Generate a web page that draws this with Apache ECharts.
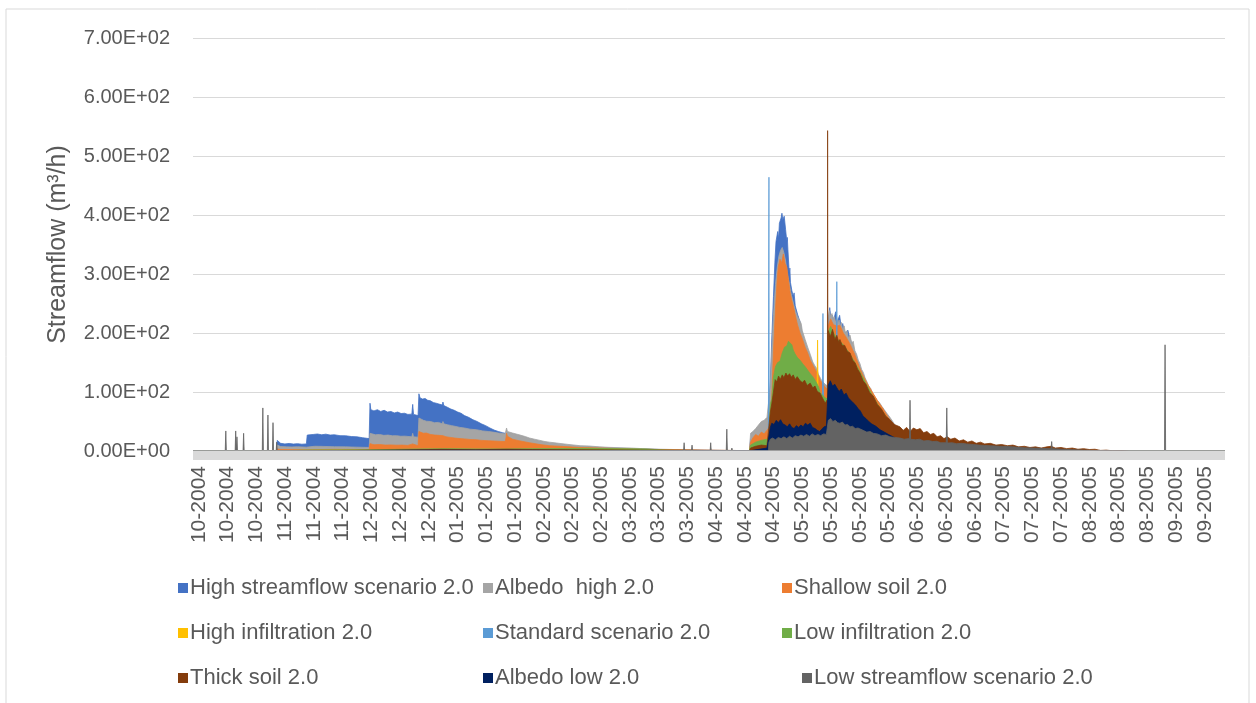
<!DOCTYPE html>
<html>
<head>
<meta charset="utf-8">
<script src="https://cdn.jsdelivr.net/npm/echarts@6/dist/echarts.min.js"></script>
<style>html,body{margin:0;padding:0;background:#fff;}#c{width:1256px;height:703px;}</style>
</head>
<body>
<div id="c"></div>
<script>
// Tick labels (36 labels, one every 10 slots starting at slot 2 of 360)
const tickLabels = ['10-2004','10-2004','10-2004','11-2004','11-2004','11-2004','12-2004','12-2004','12-2004','01-2005','01-2005','01-2005','02-2005','02-2005','02-2005','03-2005','03-2005','03-2005','04-2005','04-2005','04-2005','05-2005','05-2005','05-2005','05-2005','06-2005','06-2005','06-2005','07-2005','07-2005','07-2005','08-2005','08-2005','08-2005','09-2005','09-2005'];
const seriesNames = ['High streamflow scenario 2.0','Albedo  high 2.0','Shallow soil 2.0','High infiltration 2.0','Standard scenario 2.0','Low infiltration 2.0','Thick soil 2.0','Albedo low 2.0','Low streamflow scenario 2.0'];
const seriesColors = ['#4472c4','#a5a5a5','#ed7d31','#ffc000','#5b9bd5','#70ad47','#843c0c','#002060','#636363'];

// Series values: [day of hydrological year, streamflow m3/h]
const highStreamflow = [[0,0],[29.5,0],[29.8,18],[30.4,15],[31,13],[32.5,12],[34,12.8],[35.5,11.8],[37,12.4],[38.5,11.5],[40.1,12],[40.4,27],[41,29.5],[42.5,28],[44,28.8],[45.5,27.5],[47,28.5],[48.5,27],[50,27.5],[52,26],[54,25.8],[56,24.5],[58,24],[60,22.5],[62.3,21],[62.6,81],[62.9,70],[64,68],[65.2,70],[66.4,67],[67.6,69],[68.8,66],[70,67],[71.2,64.5],[72.4,66],[73.6,63.5],[74.8,64],[76,62],[77.4,62.5],[77.7,79],[78,62],[79.6,60],[79.9,97],[80.3,90],[81.2,88],[82.1,89],[83,86],[84,85],[85,82],[86,81],[87,79.5],[88.2,78],[88.4,83],[88.7,77],[90,74],[91.2,71],[92.4,69],[93.6,66],[94.8,64],[96,60],[97.5,57],[99,53],[100.5,50],[102,46],[103.5,43],[105,39],[106.5,35.5],[108,33],[109.5,31],[110.4,30],[110.7,26],[111.3,27],[115.7,23],[122.7,15],[129.8,10],[136.9,7.5],[143.9,5.5],[151,4.5],[158,3.5],[165,2.5],[175,1.5],[185,1],[196.8,0.4],[197.2,20],[199,30],[201,38],[203,50],[203.6,55],[204.2,120],[204.7,190],[205.3,262],[205.8,320],[206.2,355],[206.8,372],[207.1,360],[207.4,386],[208,395],[208.3,403],[208.6,392],[209.1,398],[209.6,375],[210,356],[210.2,362],[210.4,342],[210.9,300],[211.1,310],[211.3,286],[211.8,272],[212.3,262],[212.6,268],[213,246],[213.8,232],[214.7,219],[215.5,198],[217,174],[219,150],[221,125],[223,110],[224.5,104],[224.7,220],[225.2,243],[225.6,226],[226.1,230],[226.6,222],[227.3,236],[227.8,218],[228.3,217],[228.7,230],[229.2,212],[229.8,216],[230.3,204],[231,200],[231.6,205],[232.4,190],[233.3,178],[235,150],[236,140],[238,118],[240,100],[242,85],[244,72],[246,56],[248,42],[250,30],[260,20],[270,12],[280,8],[300,3],[320,0],[365,0]];
const albedoHigh = [[0,0],[29.5,0],[29.8,10],[31,7.5],[33,7],[35,6.8],[37,7.2],[40.1,6.5],[40.4,8.5],[43,8],[46,7.8],[50,7.2],[54,7],[58,6.5],[62.3,6],[62.6,30],[63.2,28],[64.5,27.5],[66,28],[67.5,26.5],[69,27],[70.5,25.8],[72,26],[73.5,25],[75,25.2],[77.4,24],[77.7,30],[78,24],[79.6,23.5],[79.9,56],[80.4,53],[81.5,52],[82.6,50.5],[84,50],[85.4,48],[86.8,48.5],[88.2,46],[88.4,50],[88.7,46],[90,44.5],[91.5,43],[93,41.5],[94.4,40],[96,39],[98,37],[100.3,36],[102.5,34],[104.5,33],[106.1,32],[108,30.5],[110.4,29],[110.7,30],[110.9,39],[111.2,33],[113,30.5],[115.7,27],[117.5,24.5],[119,22],[120.8,20],[122.7,18],[124.5,16],[126,15],[128,13.8],[129.8,12.8],[133,11],[136.9,9],[140,8.5],[143.9,7],[147,6.2],[151,5.6],[155,5],[158.1,4.2],[162,3.6],[165.2,3],[170,2.5],[173.7,2],[180,1.5],[185,1.2],[190,1],[196.8,0.5],[197.2,30],[198,33],[199,38],[200,44],[201,50],[202,52],[203,57],[203.5,58],[203.7,60],[204.2,110],[204.7,170],[205.3,230],[206,282],[206.6,310],[207.2,330],[207.8,340],[208.4,345],[209,336],[209.6,322],[210.2,300],[210.8,287],[211.4,270],[212,258],[212.6,246],[213.2,236],[213.8,228],[214.7,220],[215.1,216],[215.5,204],[216,206],[216.5,189],[217,191],[217.4,176],[217.9,179],[218.3,164],[218.8,167],[219.2,151],[219.6,154],[220,144],[220.6,140],[221.2,130],[221.8,128],[222.4,119],[223,120],[223.6,113],[224.2,114],[224.5,110],[224.7,226],[225.1,238],[225.5,228],[226,233],[226.4,222],[226.8,228],[227.2,218],[227.7,226],[228.1,214],[228.5,222],[228.9,210],[229.3,218],[229.8,205],[230.3,212],[230.8,199],[231.3,204],[231.8,192],[232.4,196],[233,182],[233.5,186],[234.1,170],[234.7,164],[235.3,154],[235.9,148],[236.5,138],[237.1,133],[237.7,124],[238.3,118],[239,110],[239.7,106],[240.4,98],[241.2,92],[242,86],[242.8,82],[243.6,76],[244.5,70],[245.4,64],[246.5,57],[247.5,50],[248.3,44],[249,38],[250,33],[255,29],[260,23],[265,18],[270,14],[275,11],[280,9],[290,6],[300,4],[310,2],[320,0.5],[328,0],[365,0]];
const shallowSoil = [[0,0],[29.5,0],[29.8,3.5],[31,2.5],[40.1,2],[40.4,3.2],[50,2.8],[62.3,2.5],[62.6,12.5],[64,10.5],[66,11],[68,10],[70,10.3],[72,9.8],[74,10],[76,9.5],[77.7,12],[78,9.5],[79.6,9],[79.9,33],[80.5,31],[81.5,30],[82.5,30.5],[84,28],[85.5,27],[87,26.5],[88.4,26],[89.5,24],[91,23],[92.5,22],[94.4,21],[96,20.5],[98,19.5],[100.3,19],[102,18],[104,17.5],[106.1,17],[108,16.5],[110.4,16],[110.7,22],[110.9,30],[111.2,25],[113,20],[115.7,17],[119,14],[122.7,11],[126,9],[129.8,8],[133,7],[136.9,6],[143.9,5],[151,4],[158.1,3],[165,2.5],[173.7,2],[180,1.5],[190,1],[196.8,0.5],[197.2,15],[198,22],[199,28],[200,25],[201,32],[202,29],[203,35],[203.7,40],[204.2,70],[204.7,92],[205.3,170],[206,240],[206.6,290],[207,312],[207.6,325],[208.2,319],[208.8,334],[209.4,318],[210,312],[210.6,290],[211.2,268],[211.8,255],[212.3,246],[212.9,233],[213.8,214],[214.7,200],[215.6,189],[216.5,176],[217.4,166],[218.3,154],[219.3,145],[220.2,137],[221,130],[221.8,120],[222.4,116],[223.6,108],[224.5,104],[224.7,212],[225.5,224],[226.5,214],[227.7,212],[228.8,213],[230,200],[231,193],[232.4,181],[234,164],[235.9,140],[237,128],[238.5,114],[240,102],[242,86],[244,72],[246,56],[248,44],[249,36],[250,31],[255,27],[260,21],[265,16],[270,13],[275,10],[280,8],[290,5],[300,3.5],[310,1.8],[320,0.4],[328,0],[365,0]];
const highInfiltration = [[0,0],[29.5,0],[29.8,1],[62.3,1],[62.6,1.5],[79.6,1.5],[79.9,2.5],[111,2],[140,1.5],[180,0.5],[196.8,0.3],[197.2,5],[203.7,8],[204.2,60],[206,110],[209,120],[212,125],[215,110],[220.7,93],[220.9,188],[221.1,92],[224.5,78],[224.7,150],[230,140],[236,110],[242,60],[250,25],[260,15],[275,8],[300,3],[320,0],[365,0]];
const standardScenario = [[0,0],[29.5,0],[29.8,1],[62.3,1],[62.6,1.5],[79.6,1.5],[79.9,2],[111,2],[140,1.5],[180,0.5],[196.8,0.3],[197.2,4],[203.5,9],[203.62,9],[203.7,464],[203.78,12],[204.2,50],[206,100],[209,115],[212,118],[215,105],[220,92],[222.6,84],[222.8,233],[223,84],[224.5,76],[224.7,140],[227.5,128],[227.7,287],[227.9,128],[230,130],[236,100],[242,55],[250,22],[260,13],[275,7],[300,2.5],[320,0],[365,0]];
const lowInfiltration = [[0,0],[29.5,0],[29.8,1.8],[40.4,1.8],[62.3,2],[62.6,3.5],[79.6,3.5],[79.9,5],[90,4],[100,3.5],[110.4,3.5],[110.9,5],[120,4],[130,4.2],[140,4.5],[150,4],[160,3.5],[165,2],[170,1.2],[180,0.8],[196.8,0.5],[197.2,10],[199,15],[201,18],[203,20],[203.7,25],[204.2,80],[204.7,88],[205.3,125],[206,143],[206.8,150],[207.6,152],[208.4,166],[209.2,176],[210,178],[210.6,186],[211.2,189],[211.8,180],[212.3,171],[212.9,165],[213.8,158],[214.7,154],[215.6,148],[216.5,143],[217.4,137],[218.3,131],[219.2,126],[220,120],[220.6,115],[221.3,108],[221.8,99],[222.6,95],[223.6,90],[224.5,88],[224.7,202],[225.5,211],[226.5,201],[227.7,190],[228.8,186],[230,180],[231.2,172],[232.4,164],[234,151],[235.9,134],[237,124],[238.5,110],[240,97],[242,80],[244,66],[246,52],[248,42],[250,30],[255,26],[260,20],[265,15],[270,12],[275,9],[280,7],[290,4.5],[300,3],[310,1.5],[320,0.3],[328,0],[365,0]];
const thickSoil = [[0,0],[29.5,0],[29.8,1.2],[62.3,1.2],[62.6,2.2],[79.6,2.2],[79.9,3.2],[88,2.8],[100,2.2],[110.9,3],[120,2.5],[140,2],[160,1.5],[180,1],[196.8,0.5],[197.2,5],[199,8],[201,10],[203,9],[203.6,12],[204.2,66],[204.7,80],[205.3,100],[205.9,121],[206.5,117],[207.1,127],[207.7,121],[208.4,129],[209,124],[209.7,132],[210.3,127],[211,131],[211.6,125],[212.3,129],[213,121],[213.7,126],[214.7,119],[215.5,116],[216.3,120],[217.2,111],[218.3,115],[219.2,107],[220,110],[220.8,101],[221.8,98],[222.5,91],[223.2,88],[223.6,81],[224.2,86],[224.38,82],[224.45,543],[224.55,82],[224.7,204],[225.4,194],[226.2,206],[227,189],[227.7,196],[228.4,184],[228.8,189],[229.6,179],[230.5,179],[231.4,169],[232.4,166],[233.3,154],[234.2,149],[235,139],[235.9,132],[237,119],[238,113],[239.3,99],[240.6,93],[242,79],[243.5,71],[245,59],[246.5,53],[248,45],[250,41],[251.2,35],[252.4,40],[253.6,33],[254.8,39],[256,36],[257.2,38],[258.4,31],[259.6,33],[260.8,28],[262,30],[263.2,24],[264.4,26],[265.6,21],[266.8,24],[268,20],[269.5,22],[271,17],[272.5,19],[274,15],[275.5,17],[277,13],[278.5,15],[280,12],[282,13],[284,10],[286,11],[288,9],[290,10],[292,7],[294,8],[296,6],[298,7],[300,5],[302,7],[303.5,8],[305,5],[307,6],[309,4],[311,5],[313,3],[315,4],[317,2.5],[319,3],[321,1],[323,1.5],[325,0.5],[328,0.8],[331,0],[365,0]];
const albedoLow = [[0,0],[29.5,0],[29.8,0.8],[62.6,1],[79.9,1.5],[110.9,1.5],[140,1],[180,0.5],[196.8,0.3],[197.2,3],[203,5],[203.6,8],[204.2,40],[204.7,47],[205.5,45],[206.3,52],[207,48],[207.8,53],[208.6,46],[209.4,44],[210.2,41],[211,46],[211.8,40],[212.6,38],[213.4,43],[214.2,40],[215,44],[215.8,41],[216.6,47],[217.4,44],[218.3,47],[219.1,40],[220,38],[220.8,35],[221.6,33],[222.4,37],[223.2,41],[224,42],[224.5,40],[224.7,112],[225.4,119],[226.2,110],[227,113],[227.7,107],[228.5,101],[229.3,105],[230.2,95],[231,98],[231.8,90],[232.6,86],[233.4,82],[234.3,78],[235.2,72],[236,68],[237,59],[238,55],[239,50],[240,46],[241.5,42],[243,36],[244.5,32],[246,28],[248,23],[250,18],[260,12],[270,8],[280,5],[300,2],[315,0],[365,0]];
const lowStreamflow = [[0,0],[11.4,0],[11.6,34],[11.8,0],[14.9,0],[15.1,34],[15.3,0.5],[15.55,24],[15.75,0],[17.7,0],[17.9,30],[18.1,0],[24.5,0],[24.7,73],[24.9,0],[26.3,0],[26.5,61],[26.7,0],[28.1,0],[28.3,48],[28.5,0],[29.4,0],[29.6,15],[29.8,0.5],[62.6,0.5],[111,0.5],[173.5,0.3],[173.7,14],[173.9,0.3],[176.3,0.3],[176.5,10],[176.7,0.3],[182.9,0.3],[183.1,14],[183.3,0.3],[188.6,0.3],[188.8,37],[189,0.3],[190.4,0.3],[190.6,5],[190.8,0.3],[203.5,0.3],[203.7,15],[204.2,20],[205,22],[206,19],[207,23],[208,21],[209,24],[210,21],[211,25],[212,22],[213,26],[214,24],[215,27],[216,25],[217,28],[218,25],[219,29],[220,26],[221,28],[222,26],[223,29],[224,28],[224.5,30],[224.7,52],[225.5,55],[226.3,50],[227.2,52],[228,48],[228.8,47],[229.7,49],[230.6,44],[231.5,45],[232.4,41],[233.3,42],[234.2,38],[235.2,39],[235.9,36],[237,35],[238.3,32],[239.5,33],[240.6,30],[242,29],[243.5,26],[245,27],[246.5,24],[248,23],[250,22],[251.5,20],[253.4,21],[253.6,86],[253.8,20],[255.5,19],[257,20],[258.5,17],[260,18],[261.7,16],[263,16.5],[264.5,14],[266.4,14],[266.6,73],[266.8,13.5],[268.5,14],[270,12.5],[272,13],[273.6,12],[276,11],[278,10],[280,9.5],[282,9],[285.4,8],[288,7.5],[290,7],[294,5.5],[297,5],[300,4.5],[303.5,4],[303.7,16],[303.9,4],[306,3.5],[309,2.5],[312,2],[315,1.5],[320,0.5],[325,0],[343.6,0],[343.8,180],[344,0],[365,0]];

const seriesData = [highStreamflow, albedoHigh, shallowSoil, highInfiltration, standardScenario, lowInfiltration, thickSoil, albedoLow, lowStreamflow];

const SLOTS = 360;
const categories = [];
for (let i = 0; i < SLOTS; i++) {
  categories.push((i - 2) % 10 === 0 && i >= 2 ? tickLabels[(i - 2) / 10] : '');
}

function sci(v) {
  if (v === 0) return '0.00E+00';
  const e = Math.floor(Math.log10(v) + 1e-9);
  const m = v / Math.pow(10, e);
  return m.toFixed(2) + 'E' + (e < 0 ? '-' : '+') + String(Math.abs(e)).padStart(2, '0');
}

const FONT = 'Liberation Sans, Arial, sans-serif';
const TXT = '#595959';

const legendPlaces = [[178,577],[483,577],[782,577],[178,622],[483,622],[782,622],[178,667],[483,667],[802,667]];
const legends = seriesNames.map((n, i) => ({
  data: [n], left: legendPlaces[i][0], top: legendPlaces[i][1], padding: 0,
  icon: 'rect', itemWidth: 10, itemHeight: 10, itemGap: 0, selectedMode: false,
  textStyle: { fontFamily: FONT, fontSize: 22, color: TXT, padding: [0, 0, 0, -3] }
}));

const chart = echarts.init(document.getElementById('c'), null, { renderer: 'canvas' });
chart.setOption({
  animation: false,
  backgroundColor: '#ffffff',
  textStyle: { fontFamily: FONT },
  graphic: [{ type: 'rect', shape: { x: 6, y: 9, width: 1243, height: 710 }, style: { fill: 'none', stroke: '#d9d9d9', lineWidth: 1 }, silent: true }],
  grid: [
    { left: 193, right: 31, top: 38, bottom: 252, containLabel: false },
    { left: 193, right: 31, top: 450.5, height: 9.5, show: true, backgroundColor: '#d9d9d9', borderWidth: 0, z: 50, containLabel: false }
  ],
  legend: legends,
  xAxis: [
    {
      type: 'category', data: categories, boundaryGap: false,
      axisLine: { show: false },
      axisTick: { show: false },
      splitLine: { show: false },
      axisLabel: {
        interval: (idx) => idx >= 2 && (idx - 2) % 10 === 0,
        rotate: 90, margin: 15, fontSize: 21, color: TXT, fontFamily: FONT, hideOverlap: false
      }
    },
    { type: 'value', min: 0, max: 365, show: false, splitLine: { show: false } },
    { type: 'value', gridIndex: 1, min: 0, max: 1, show: false }
  ],
  yAxis: [
    {
      type: 'value', min: 0, max: 700, interval: 100,
      name: 'Streamflow (m³/h)', nameLocation: 'middle', nameRotate: 90, nameGap: 122,
      nameTextStyle: { fontSize: 25, color: TXT, fontFamily: FONT },
      axisLine: { show: false }, axisTick: { show: false },
      axisLabel: { formatter: sci, fontSize: 20, color: TXT, margin: 23, fontFamily: FONT },
      splitLine: { lineStyle: { color: '#d9d9d9', width: 1 } }
    },
    { type: 'value', gridIndex: 1, min: 0, max: 1, show: false }
  ],
  series: seriesNames.map((n, i) => ({
    name: n, type: 'line', xAxisIndex: 1, yAxisIndex: 0, data: seriesData[i], z: 2 + i,
    symbol: 'none', silent: true,
    lineStyle: { width: 0.8, color: seriesColors[i] },
    itemStyle: { color: seriesColors[i] },
    areaStyle: { color: seriesColors[i], opacity: 1 }
  }))
});
</script>
</body>
</html>
